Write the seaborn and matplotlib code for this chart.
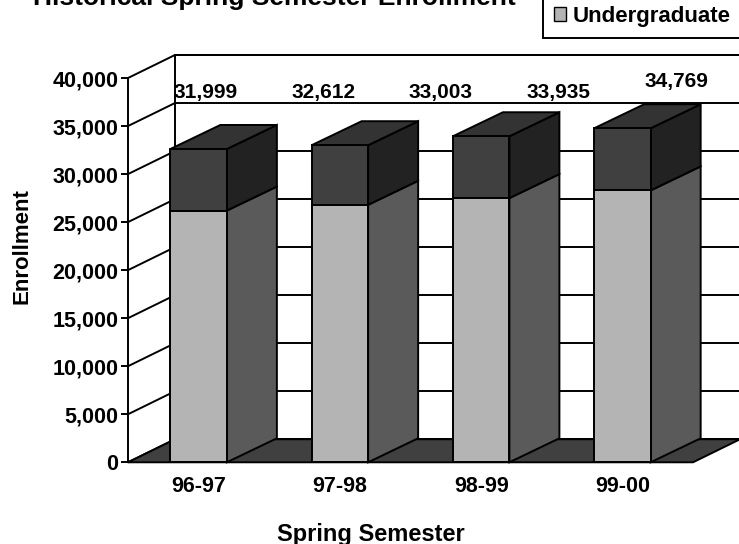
import matplotlib
matplotlib.use("Agg")
import matplotlib.pyplot as plt
from matplotlib.patches import Polygon, Patch
import seaborn as sns
import numpy as np

# data
semesters = ['96-97', '97-98', '98-99', '99-00']
undergrad = [26200, 26800, 27500, 28300]
total = [32612, 33003, 33935, 34769]
graduate = [t - u for t, u in zip(total, undergrad)]
label_values = [31999, 32612, 33003, 33935, 34769]
y_ticks = list(range(0, 40001, 5000))

sns.set_style('white')
plt.rcParams['font.family'] = ['Liberation Sans', 'DejaVu Sans']
plt.rcParams['font.weight'] = 'bold'
plt.rcParams['text.color'] = 'black'
plt.rcParams['xtick.color'] = 'black'
plt.rcParams['ytick.color'] = 'black'
plt.rcParams['axes.labelcolor'] = 'black'

ug_front = '#b4b4b4'
ug_side = '#5a5a5a'
gr_front = '#404040'
gr_side = '#222222'
gr_top = '#333333'
floor_c = '#404040'
lw = 1.4

fig = plt.figure(figsize=(7.39, 5.44), dpi=100)
ax = fig.add_axes([0.1732, 0.1502, 0.7646, 0.7064])

# 3d depth of the walls and of the bars (data units)
wx, wy = 0.333, 2400
bx, by = 0.354, 2500
x0, x1 = -0.5, 3.5
ymax = 40000

# back wall + gridlines
ax.add_patch(Polygon([(x0 + wx, wy), (x1 + wx, wy), (x1 + wx, ymax + wy), (x0 + wx, ymax + wy)],
                     closed=True, fc='white', ec='black', lw=lw, clip_on=False, zorder=0))
for t in y_ticks:
    ax.plot([x0 + wx, x1 + wx], [t + wy, t + wy], color='black', lw=lw, clip_on=False, zorder=0.5)
    # left wall diagonals
    ax.plot([x0, x0 + wx], [t, t + wy], color='black', lw=lw, clip_on=False, zorder=0.5)

# floor
ax.add_patch(Polygon([(x0, 0), (x1, 0), (x1 + wx, wy), (x0 + wx, wy)],
                     closed=True, fc=floor_c, ec='black', lw=lw, clip_on=False, zorder=1))

# side and top faces of the bars
half = 0.2
for i, (u, tot) in enumerate(zip(undergrad, total)):
    l, r = i - half, i + half
    ax.add_patch(Polygon([(r, 0), (r + bx, by), (r + bx, u + by), (r, u)],
                         closed=True, fc=ug_side, ec='black', lw=lw, clip_on=False, zorder=2))
    ax.add_patch(Polygon([(r, u), (r + bx, u + by), (r + bx, tot + by), (r, tot)],
                         closed=True, fc=gr_side, ec='black', lw=lw, clip_on=False, zorder=2))
    ax.add_patch(Polygon([(l, tot), (r, tot), (r + bx, tot + by), (l + bx, tot + by)],
                         closed=True, fc=gr_top, ec='black', lw=lw, clip_on=False, zorder=2))

# front faces (stacked)
sns.barplot(x=semesters, y=total, color=gr_front, saturation=1, width=2 * half,
            edgecolor='black', linewidth=lw, errorbar=None, ax=ax, zorder=3)
sns.barplot(x=semesters, y=undergrad, color=ug_front, saturation=1, width=2 * half,
            edgecolor='black', linewidth=lw, errorbar=None, ax=ax, zorder=3)

# value labels floating above the bars
label_x = np.linspace(0.05, 3.38, len(label_values))
label_y = [38500, 38500, 38500, 38500, 39600]
for x, y, v in zip(label_x, label_y, label_values):
    ax.text(x, y, f'{v:,}', ha='center', va='center', fontsize=15, fontweight='bold',
            color='black', zorder=5)

ax.set_xlim(x0, x1)
ax.set_ylim(0, ymax)
ax.set_yticks(y_ticks)
ax.set_yticklabels([f'{t:,}' for t in y_ticks], fontsize=15.5, fontweight='bold')
ax.set_xticks(range(len(semesters)))
ax.set_xticklabels(semesters, fontsize=15.5, fontweight='bold')
ax.tick_params(axis='y', length=5, width=lw, direction='out', pad=2, left=True, color='black')
ax.tick_params(axis='x', length=0, pad=10)
ax.set_xlabel('')
ax.set_ylabel('')
for s in ['top', 'right', 'bottom']:
    ax.spines[s].set_visible(False)
ax.spines['left'].set_color('black')
ax.spines['left'].set_linewidth(lw)
ax.patch.set_visible(False)

fig.text(33 / 739, 1 - 5 / 544, 'Historical Spring Semester Enrollment', fontsize=19,
         fontweight='bold', va='baseline', ha='left')
fig.text(371 / 739, 1 - 541 / 544, 'Spring Semester', fontsize=17, fontweight='bold',
         ha='center', va='baseline')
fig.text(22 / 739, 1 - 246 / 544, 'Enrollment', fontsize=16, fontweight='bold',
         rotation=90, ha='center', va='center')

handles = [Patch(fc=gr_front, ec='black', lw=1, label='Graduate'),
           Patch(fc=ug_front, ec='black', lw=1, label='Undergraduate')]
leg = fig.legend(handles=handles, loc='lower left', bbox_to_anchor=(543 / 739, 1 - 38 / 544),
                 frameon=True, fancybox=False, edgecolor='black', framealpha=1,
                 prop={'size': 16, 'weight': 'bold'}, handlelength=0.55, handleheight=0.55,
                 handletextpad=0.3, borderpad=0.5, labelspacing=0.9, borderaxespad=0)
leg.get_frame().set_linewidth(lw)

fig.savefig('out.png', dpi=100)
